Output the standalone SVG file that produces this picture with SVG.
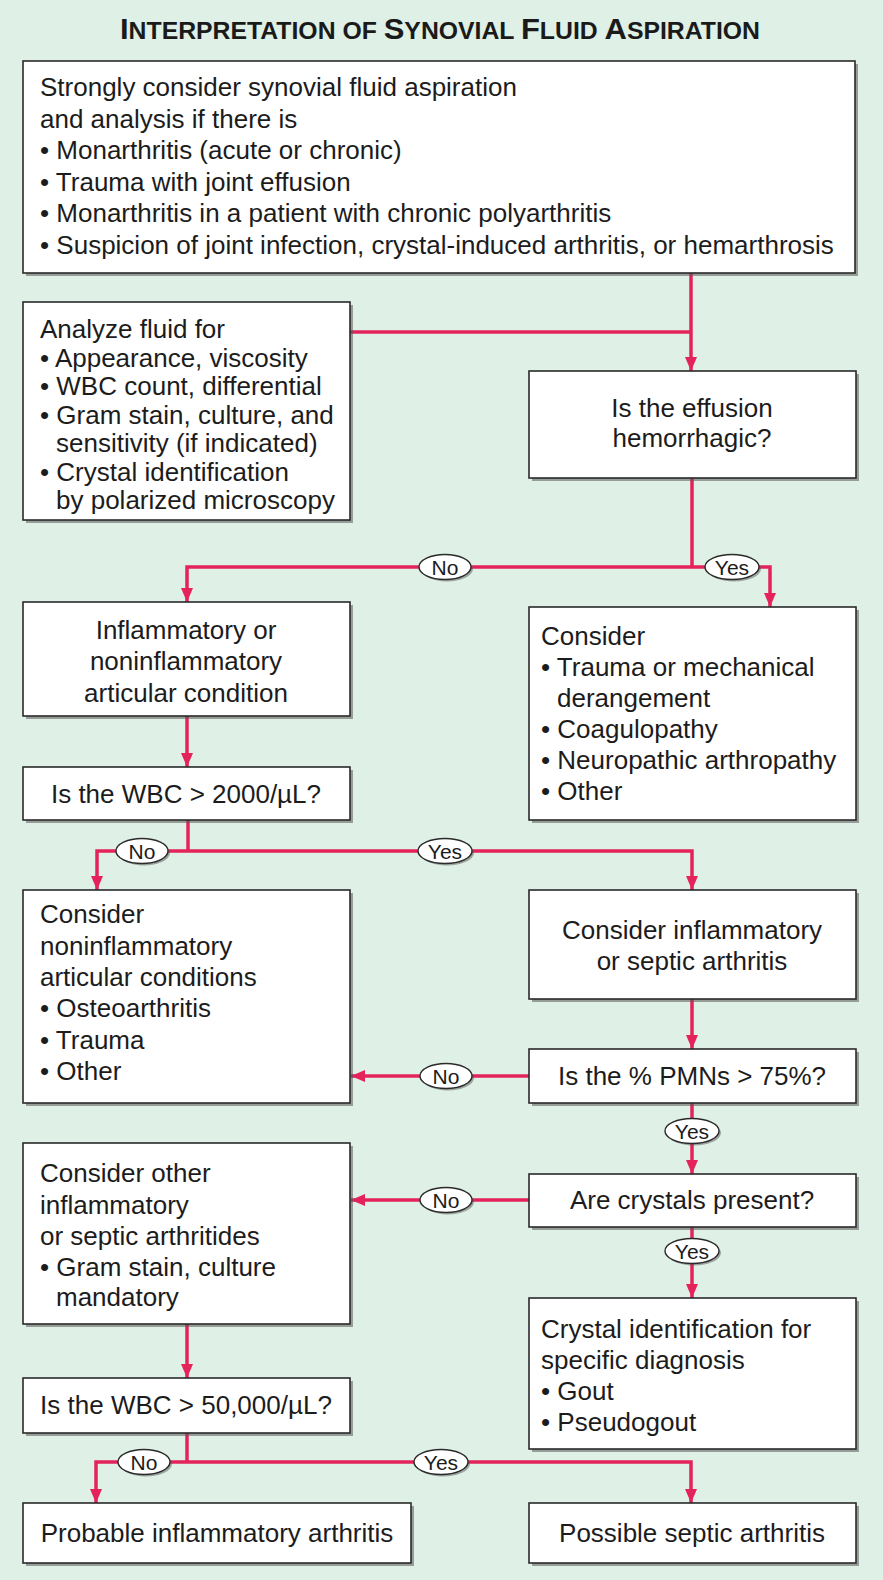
<svg xmlns="http://www.w3.org/2000/svg" width="883" height="1580" viewBox="0 0 883 1580">
<defs>
<style>
.bg{fill:#dff0e6}
.box{fill:#fff;stroke:#2a2a2a;stroke-width:1.6}
.sh{fill:#5a5a5a;opacity:0.55}
.t{font-family:"Liberation Sans",Arial,Helvetica,sans-serif;font-size:26px;fill:#1c1c1c}
.c{text-anchor:middle}
.ln{stroke:#e4235b;stroke-width:3.5;fill:none}
.el{fill:#fff;stroke:#2a2a2a;stroke-width:1.4}
.esh{fill:#5a5a5a;opacity:0.5}
.lt{font-family:"Liberation Sans",Arial,Helvetica,sans-serif;font-size:21px;fill:#1c1c1c;text-anchor:middle}
.title{font-family:"Liberation Sans",Arial,Helvetica,sans-serif;font-weight:bold;fill:#1a1a1a}
</style>
<marker id="ah" viewBox="0 0 14 12" refX="14" refY="6" markerWidth="14" markerHeight="12" markerUnits="userSpaceOnUse" orient="auto">
<path d="M0,0 L14,6 L0,12 z" fill="#e4235b"/>
</marker>
</defs>
<rect class="bg" x="0" y="0" width="883" height="1580"/>

<text class="title" x="120" y="39" textLength="640" lengthAdjust="spacingAndGlyphs"><tspan font-size="30">I</tspan><tspan font-size="24">NTERPRETATION OF </tspan><tspan font-size="30">S</tspan><tspan font-size="24">YNOVIAL </tspan><tspan font-size="30">F</tspan><tspan font-size="24">LUID </tspan><tspan font-size="30">A</tspan><tspan font-size="24">SPIRATION</tspan></text>

<g id="connectors">
<path class="ln" d="M691,273 V371" marker-end="url(#ah)"/>
<path class="ln" d="M350,332 H691"/>
<path class="ln" d="M692,478 V567"/>
<path class="ln" d="M692,567 H187 V602" marker-end="url(#ah)"/>
<path class="ln" d="M692,567 H770 V607" marker-end="url(#ah)"/>
<path class="ln" d="M187,716 V767" marker-end="url(#ah)"/>
<path class="ln" d="M188,820 V851"/>
<path class="ln" d="M188,851 H97 V890" marker-end="url(#ah)"/>
<path class="ln" d="M188,851 H692 V890" marker-end="url(#ah)"/>
<path class="ln" d="M692,999 V1049" marker-end="url(#ah)"/>
<path class="ln" d="M529,1076 H351" marker-end="url(#ah)"/>
<path class="ln" d="M692,1103 V1174" marker-end="url(#ah)"/>
<path class="ln" d="M529,1200 H351" marker-end="url(#ah)"/>
<path class="ln" d="M692,1227 V1298" marker-end="url(#ah)"/>
<path class="ln" d="M187,1324 V1378" marker-end="url(#ah)"/>
<path class="ln" d="M187,1433 V1462"/>
<path class="ln" d="M187,1462 H96 V1503" marker-end="url(#ah)"/>
<path class="ln" d="M187,1462 H691 V1503" marker-end="url(#ah)"/>

<g id="lbl-no1"><ellipse class="esh" cx="447" cy="569" rx="26" ry="12.5"/><ellipse class="el" cx="445" cy="567" rx="26" ry="12.5"/><text class="lt" x="445" y="574.5">No</text></g>
<g id="lbl-yes1"><ellipse class="esh" cx="734" cy="569" rx="27" ry="12.5"/><ellipse class="el" cx="732" cy="567" rx="27" ry="12.5"/><text class="lt" x="732" y="574.5">Yes</text></g>
<g id="lbl-no2"><ellipse class="esh" cx="144" cy="853" rx="26" ry="12.5"/><ellipse class="el" cx="142" cy="851" rx="26" ry="12.5"/><text class="lt" x="142" y="858.5">No</text></g>
<g id="lbl-yes2"><ellipse class="esh" cx="447" cy="853" rx="27" ry="12.5"/><ellipse class="el" cx="445" cy="851" rx="27" ry="12.5"/><text class="lt" x="445" y="858.5">Yes</text></g>
<g id="lbl-no3"><ellipse class="esh" cx="448" cy="1078" rx="26" ry="12.5"/><ellipse class="el" cx="446" cy="1076" rx="26" ry="12.5"/><text class="lt" x="446" y="1083.5">No</text></g>
<g id="lbl-yes3"><ellipse class="esh" cx="694" cy="1133" rx="27" ry="12.5"/><ellipse class="el" cx="692" cy="1131" rx="27" ry="12.5"/><text class="lt" x="692" y="1138.5">Yes</text></g>
<g id="lbl-no4"><ellipse class="esh" cx="448" cy="1202" rx="26" ry="12.5"/><ellipse class="el" cx="446" cy="1200" rx="26" ry="12.5"/><text class="lt" x="446" y="1207.5">No</text></g>
<g id="lbl-yes4"><ellipse class="esh" cx="694" cy="1253" rx="27" ry="12.5"/><ellipse class="el" cx="692" cy="1251" rx="27" ry="12.5"/><text class="lt" x="692" y="1258.5">Yes</text></g>
<g id="lbl-no5"><ellipse class="esh" cx="146" cy="1464" rx="26" ry="12.5"/><ellipse class="el" cx="144" cy="1462" rx="26" ry="12.5"/><text class="lt" x="144" y="1469.5">No</text></g>
<g id="lbl-yes5"><ellipse class="esh" cx="443" cy="1464" rx="27" ry="12.5"/><ellipse class="el" cx="441" cy="1462" rx="27" ry="12.5"/><text class="lt" x="441" y="1469.5">Yes</text></g>
</g>

<g id="n1">
<rect class="sh" x="26" y="64" width="832" height="212"/>
<rect class="box" x="23" y="61" width="832" height="212"/>
<text class="t" x="40" y="96">Strongly consider synovial fluid aspiration</text>
<text class="t" x="40" y="127.5">and analysis if there is</text>
<text class="t" x="40" y="159">• Monarthritis (acute or chronic)</text>
<text class="t" x="40" y="190.5">• Trauma with joint effusion</text>
<text class="t" x="40" y="222">• Monarthritis in a patient with chronic polyarthritis</text>
<text class="t" x="40" y="253.5">• Suspicion of joint infection, crystal-induced arthritis, or hemarthrosis</text>
</g>

<g id="n2">
<rect class="sh" x="26" y="305" width="327" height="218"/>
<rect class="box" x="23" y="302" width="327" height="218"/>
<text class="t" x="40" y="338">Analyze fluid for</text>
<text class="t" x="40" y="366.5">• Appearance, viscosity</text>
<text class="t" x="40" y="395">• WBC count, differential</text>
<text class="t" x="40" y="423.5">• Gram stain, culture, and</text>
<text class="t" x="56" y="452">sensitivity (if indicated)</text>
<text class="t" x="40" y="480.5">• Crystal identification</text>
<text class="t" x="56" y="509">by polarized microscopy</text>
</g>

<g id="n3">
<rect class="sh" x="532" y="374" width="327" height="107"/>
<rect class="box" x="529" y="371" width="327" height="107"/>
<text class="t c" x="692" y="417">Is the effusion</text>
<text class="t c" x="692" y="447">hemorrhagic?</text>
</g>

<g id="n4">
<rect class="sh" x="26" y="605" width="327" height="114"/>
<rect class="box" x="23" y="602" width="327" height="114"/>
<text class="t c" x="186" y="639">Inflammatory or</text>
<text class="t c" x="186" y="670">noninflammatory</text>
<text class="t c" x="186" y="702">articular condition</text>
</g>

<g id="n5">
<rect class="sh" x="532" y="610" width="327" height="213"/>
<rect class="box" x="529" y="607" width="327" height="213"/>
<text class="t" x="541" y="645">Consider</text>
<text class="t" x="541" y="676">• Trauma or mechanical</text>
<text class="t" x="557" y="707">derangement</text>
<text class="t" x="541" y="738">• Coagulopathy</text>
<text class="t" x="541" y="769">• Neuropathic arthropathy</text>
<text class="t" x="541" y="800">• Other</text>
</g>

<g id="n6">
<rect class="sh" x="26" y="770" width="327" height="53"/>
<rect class="box" x="23" y="767" width="327" height="53"/>
<text class="t c" x="186" y="803">Is the WBC &gt; 2000/µL?</text>
</g>

<g id="n7">
<rect class="sh" x="26" y="893" width="327" height="213"/>
<rect class="box" x="23" y="890" width="327" height="213"/>
<text class="t" x="40" y="923">Consider</text>
<text class="t" x="40" y="955">noninflammatory</text>
<text class="t" x="40" y="986">articular conditions</text>
<text class="t" x="40" y="1017">• Osteoarthritis</text>
<text class="t" x="40" y="1049">• Trauma</text>
<text class="t" x="40" y="1080">• Other</text>
</g>

<g id="n8">
<rect class="sh" x="532" y="893" width="327" height="109"/>
<rect class="box" x="529" y="890" width="327" height="109"/>
<text class="t c" x="692" y="939">Consider inflammatory</text>
<text class="t c" x="692" y="970">or septic arthritis</text>
</g>

<g id="n9">
<rect class="sh" x="532" y="1052" width="327" height="54"/>
<rect class="box" x="529" y="1049" width="327" height="54"/>
<text class="t c" x="692" y="1085">Is the % PMNs &gt; 75%?</text>
</g>

<g id="n10">
<rect class="sh" x="532" y="1177" width="327" height="53"/>
<rect class="box" x="529" y="1174" width="327" height="53"/>
<text class="t c" x="692" y="1209">Are crystals present?</text>
</g>

<g id="n11">
<rect class="sh" x="26" y="1146" width="327" height="181"/>
<rect class="box" x="23" y="1143" width="327" height="181"/>
<text class="t" x="40" y="1182">Consider other</text>
<text class="t" x="40" y="1214">inflammatory</text>
<text class="t" x="40" y="1245">or septic arthritides</text>
<text class="t" x="40" y="1276">• Gram stain, culture</text>
<text class="t" x="56" y="1306">mandatory</text>
</g>

<g id="n12">
<rect class="sh" x="532" y="1301" width="327" height="151"/>
<rect class="box" x="529" y="1298" width="327" height="151"/>
<text class="t" x="541" y="1338">Crystal identification for</text>
<text class="t" x="541" y="1369">specific diagnosis</text>
<text class="t" x="541" y="1400">• Gout</text>
<text class="t" x="541" y="1431">• Pseudogout</text>
</g>

<g id="n13">
<rect class="sh" x="26" y="1381" width="327" height="55"/>
<rect class="box" x="23" y="1378" width="327" height="55"/>
<text class="t c" x="186" y="1414">Is the WBC &gt; 50,000/µL?</text>
</g>

<g id="n14">
<rect class="sh" x="26" y="1506" width="388" height="60"/>
<rect class="box" x="23" y="1503" width="388" height="60"/>
<text class="t c" x="217" y="1542">Probable inflammatory arthritis</text>
</g>

<g id="n15">
<rect class="sh" x="532" y="1506" width="327" height="60"/>
<rect class="box" x="529" y="1503" width="327" height="60"/>
<text class="t c" x="692" y="1542">Possible septic arthritis</text>
</g>
</svg>
